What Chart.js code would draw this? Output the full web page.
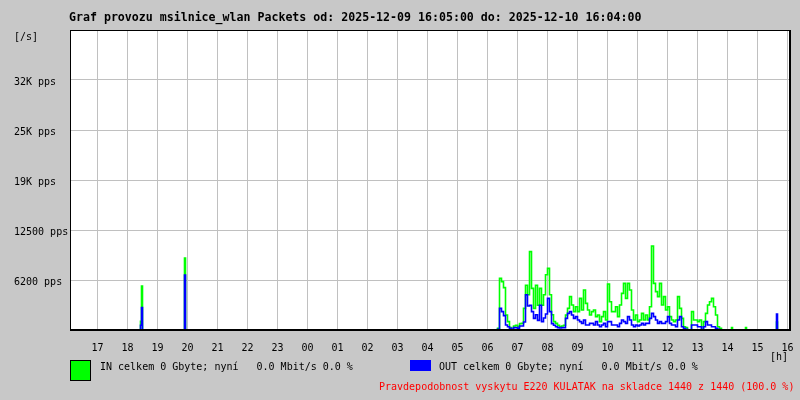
<!DOCTYPE html>
<html>
<head>
<meta charset="utf-8">
<title>Graf provozu msilnice_wlan</title>
<script src="https://cdn.jsdelivr.net/npm/chart.js@4/dist/chart.umd.min.js"></script>
<style>
  html, body { margin: 0; padding: 0; background: #c8c8c8; }
  #wrap { width: 800px; height: 400px; }
</style>
</head>
<body>
<div id="wrap"><canvas id="graf" width="800" height="400"></canvas></div>
<script>
(function () {
  'use strict';

  // ── texts ──────────────────────────────────────────────────────────────
  const TITLE = 'Graf provozu msilnice_wlan Packets od: 2025-12-09 16:05:00 do: 2025-12-10 16:04:00';
  const IN_TEXT = 'IN celkem 0 Gbyte; nyní   0.0 Mbit/s 0.0 %';
  const OUT_TEXT = 'OUT celkem 0 Gbyte; nyní   0.0 Mbit/s 0.0 %';
  const NOTE_TEXT = 'Pravdepodobnost vyskytu E220 KULATAK na skladce 1440 z 1440 (100.0 %)';

  // ── axes (x = minutes since 16:05, y = packets per second) ──────────────
  const X_MAX_MIN = 1440;
  const HOUR_TICKS = [55, 115, 175, 235, 295, 355, 415, 475, 535, 595, 655, 715,
                      775, 835, 895, 955, 1015, 1075, 1135, 1195, 1255, 1315, 1375, 1435];
  const HOUR_LABELS = ['17', '18', '19', '20', '21', '22', '23', '00', '01', '02', '03', '04',
                       '05', '06', '07', '08', '09', '10', '11', '12', '13', '14', '15', '16'];
  const Y_TICKS = [0, 6250, 12500, 18750, 25000, 31250, 37500];
  const Y_LABELS = ['', '6200 pps', '12500 pps', '19K pps', '25K pps', '32K pps', ''];

  // ── isolated peaks outside the busy morning ────────────────────────────
  const spikeMin = [139, 141, 143, 145, 227, 229, 231,
                    1321, 1323, 1325, 1349, 1351, 1353, 1411, 1413, 1415];
  const spikeIn  = [0, 1100, 5500, 0, 0, 9000, 0,
                    0, 300, 0, 0, 300, 0, 0, 1000, 0];
  const spikeOut = [0, 600, 2800, 0, 0, 6875, 0,
                    0, 0, 0, 0, 0, 0, 0, 2000, 0];

  // ── busy period 06:16 – 13:48, one value every 4 minutes ───────────────
  const BUSY_START_MIN = 851;
  const BUSY_STEP_MIN = 4;
  const busyIn = [
    0, 200, 6450, 6050, 5300, 1875, 1050, 300, 0, 500,
    600, 400, 800, 830, 2700, 5600, 4400, 9800, 5200, 2700,
    5600, 3100, 5200, 3100, 4400, 6900, 7700, 4400, 1900, 1050,
    830, 600, 400, 500, 600, 1875, 2700, 4170, 3125, 2300,
    2900, 2300, 3950, 2500, 5000, 3330, 2500, 1875, 2300, 2500,
    1670, 1875, 1050, 1670, 2300, 1250, 5750, 3540, 2300, 2300,
    2900, 1670, 3125, 4580, 5830, 3950, 5830, 5000, 2500, 1250,
    1875, 1050, 1250, 2080, 1250, 1875, 1250, 2900, 10500, 5830,
    4800, 4170, 5830, 3125, 4170, 2500, 2900, 1670, 1250, 1050,
    1250, 4170, 2700, 1450, 400, 300, 0, 0, 2300, 1250,
    1250, 1050, 1250, 0, 1050, 2080, 3125, 3540, 3950, 2900,
    1875, 400, 200, 0
  ];
  const busyOut = [
    0, 100, 2700, 2300, 1800, 625, 400, 200, 100, 300,
    300, 200, 500, 500, 1000, 4400, 3000, 3100, 2300, 1450,
    1900, 1200, 3100, 1050, 1500, 2000, 3950, 2300, 800, 600,
    400, 300, 250, 300, 300, 1450, 2080, 2300, 1875, 1450,
    1670, 1250, 1050, 830, 1250, 625, 625, 830, 830, 625,
    1050, 625, 400, 625, 830, 400, 1050, 1050, 625, 625,
    625, 400, 830, 1250, 1050, 830, 1670, 1250, 625, 400,
    625, 500, 625, 830, 625, 830, 830, 1450, 2080, 1670,
    1250, 830, 1050, 830, 830, 1050, 1670, 830, 625, 625,
    400, 1250, 1670, 400, 200, 100, 0, 0, 625, 625,
    625, 400, 400, 0, 400, 1050, 625, 625, 400, 400,
    200, 100, 0, 0
  ];

  const GREEN = '#00ff00';
  const BLUE = '#0000ff';
  const BG = '#c8c8c8';
  const GRID = '#c0c0c0';
  const MONO = '"DejaVu Sans Mono", "Liberation Mono", monospace';

  function buildSeries(spikeVals, busyVals) {
    const pts = [{ x: 0, y: 0 }];
    spikeMin.forEach((m, i) => pts.push({ x: m, y: spikeVals[i] }));
    busyVals.forEach((v, i) => pts.push({ x: BUSY_START_MIN + i * BUSY_STEP_MIN, y: v }));
    pts.push({ x: X_MAX_MIN, y: 0 });
    return pts.sort((a, b) => a.x - b.x);
  }

  // background, frame and the MRTG style captions
  const mrtgFrame = {
    id: 'mrtgFrame',
    beforeDraw(chart) {
      const { ctx, chartArea: a } = chart;
      ctx.save();
      ctx.fillStyle = BG;
      ctx.fillRect(0, 0, chart.width, chart.height);
      ctx.fillStyle = '#ffffff';
      ctx.fillRect(a.left, a.top, a.right - a.left, a.bottom - a.top);
      ctx.restore();
    },
    afterDraw(chart) {
      const { ctx, chartArea: a } = chart;
      ctx.save();
      ctx.fillStyle = '#000000';
      ctx.fillRect(a.left, a.top, 1, a.bottom - a.top);
      ctx.fillRect(a.left, a.top, a.right - a.left, 1);
      ctx.fillRect(a.right - 1, a.top, 2, a.bottom - a.top + 1);
      ctx.fillRect(a.left, a.bottom - 1, a.right - a.left + 1, 2);

      ctx.textBaseline = 'middle';
      ctx.textAlign = 'left';
      ctx.font = 'bold 11.6px ' + MONO;
      ctx.fillText(TITLE, 69, 18);

      ctx.font = '10px ' + MONO;
      ctx.fillText('[/s]', 14, 37);
      ctx.fillText('[h]', 770, 357);

      // legend
      ctx.fillStyle = GREEN;
      ctx.fillRect(70, 360, 21, 21);
      ctx.strokeStyle = '#000000';
      ctx.lineWidth = 1;
      ctx.strokeRect(70.5, 360.5, 20, 20);
      ctx.fillStyle = BLUE;
      ctx.fillRect(410, 360, 21, 11);

      ctx.fillStyle = '#000000';
      ctx.fillText(IN_TEXT, 100, 367);
      ctx.fillText(OUT_TEXT, 439, 367);

      ctx.fillStyle = '#ff0000';
      ctx.fillText(NOTE_TEXT, 379, 387);
      ctx.restore();
    }
  };

  Chart.defaults.font.family = MONO;
  Chart.defaults.font.size = 10;
  Chart.defaults.color = '#000000';

  new Chart(document.getElementById('graf'), {
    type: 'line',
    data: {
      datasets: [
        {
          label: 'OUT',
          data: buildSeries(spikeOut, busyOut),
          borderColor: BLUE,
          borderWidth: 1.6,
          stepped: true,
          pointRadius: 0,
          fill: false
        },
        {
          label: 'IN',
          data: buildSeries(spikeIn, busyIn),
          borderColor: GREEN,
          borderWidth: 1.6,
          stepped: true,
          pointRadius: 0,
          fill: false
        }
      ]
    },
    options: {
      responsive: false,
      animation: false,
      layout: { padding: { left: 14, right: 10, top: 30, bottom: 0 } },
      plugins: {
        legend: { display: false },
        title: { display: false },
        tooltip: { enabled: false }
      },
      scales: {
        x: {
          type: 'linear',
          min: 0,
          max: X_MAX_MIN,
          afterBuildTicks: (scale) => { scale.ticks = HOUR_TICKS.map(v => ({ value: v })); },
          afterFit: (scale) => {
            scale.height = 70;
            scale.paddingLeft = 0;
            scale.paddingRight = 0;
          },
          grid: { color: GRID, drawTicks: false },
          border: { display: false },
          ticks: {
            autoSkip: false,
            maxRotation: 0,
            padding: 12,
            callback: (value) => HOUR_LABELS[HOUR_TICKS.indexOf(value)]
          }
        },
        y: {
          type: 'linear',
          min: 0,
          max: 37500,
          afterBuildTicks: (scale) => { scale.ticks = Y_TICKS.map(v => ({ value: v })); },
          afterFit: (scale) => {
            scale.width = 56;
            scale.paddingTop = 0;
            scale.paddingBottom = 0;
          },
          grid: { color: GRID, drawTicks: false },
          border: { display: false },
          ticks: {
            crossAlign: 'far',
            labelOffset: 2,
            callback: (value) => Y_LABELS[Y_TICKS.indexOf(value)]
          }
        }
      }
    },
    plugins: [mrtgFrame]
  });
})();
</script>
</body>
</html>
